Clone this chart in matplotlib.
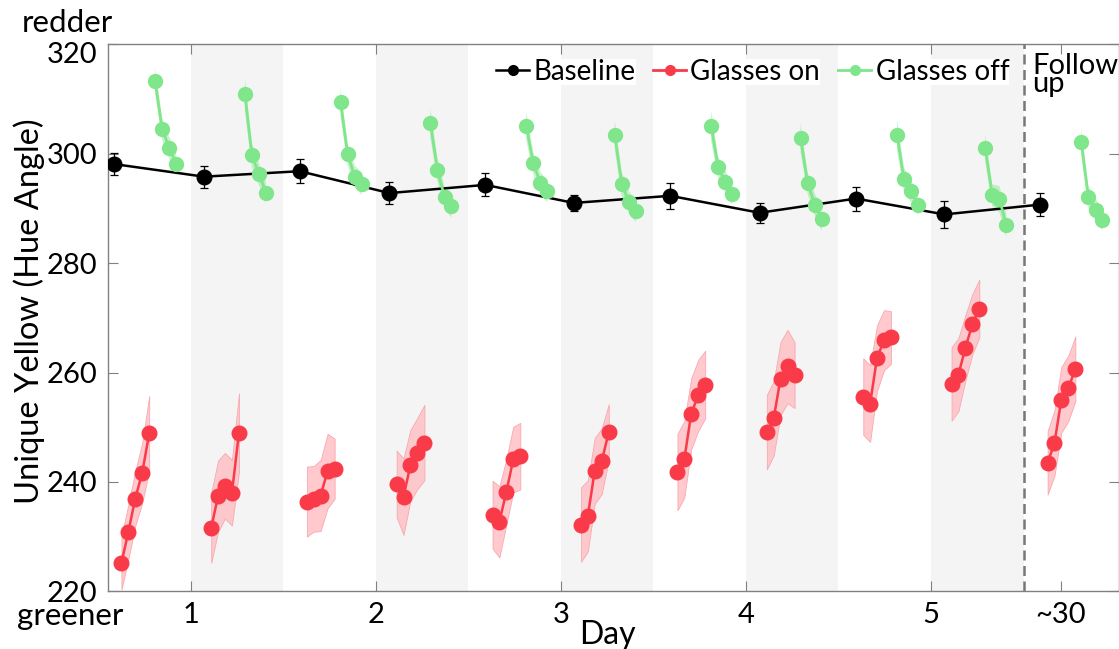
import numpy as np
import matplotlib
matplotlib.use('Agg')
import matplotlib.pyplot as plt
import matplotlib.transforms as mtransforms
from matplotlib.lines import Line2D

plt.rcParams['font.family'] = ['Lato', 'DejaVu Sans']

# session start (position on the day axis) for each baseline measurement
session_x = [0.587, 1.072, 1.589, 2.074, 2.592, 3.070, 3.591, 4.074, 4.595, 5.072, 5.591]

baseline_mean = [298.1, 295.8, 296.8, 292.8, 294.3, 291.0, 292.3, 289.2, 291.8, 288.9, 290.7]
baseline_err = [2.0, 2.0, 2.2, 2.0, 2.1, 1.4, 2.4, 1.8, 2.2, 2.5, 2.1]

# within-session timing of the repeated settings
on_offset = [0.039, 0.076, 0.113, 0.151, 0.189]
off_offset = [0.221, 0.259, 0.298, 0.335]

on_mean = [
    [225.2, 230.8, 236.9, 241.6, 248.9],
    [231.6, 237.4, 239.3, 238.0, 249.0],
    [236.4, 236.9, 237.5, 242.0, 242.4],
    [239.6, 237.3, 243.0, 245.2, 247.2],
    [234.0, 232.7, 238.1, 244.1, 244.7],
    [232.2, 233.8, 242.0, 243.8, 249.1],
    [241.8, 244.1, 252.4, 255.8, 257.8],
    [249.1, 251.6, 258.9, 261.1, 259.5],
    [255.6, 254.3, 262.6, 265.9, 266.4],
    [257.9, 259.6, 264.4, 268.8, 271.7],
    [243.5, 247.1, 255.0, 257.1, 260.7],
]
on_err = [
    [4.9, 5.0, 5.0, 5.5, 6.8],
    [6.4, 6.5, 6.0, 6.0, 7.2],
    [6.4, 6.0, 6.5, 6.8, 5.5],
    [6.1, 7.0, 6.5, 6.5, 6.9],
    [6.2, 6.5, 6.0, 6.0, 6.1],
    [6.8, 6.5, 6.0, 6.0, 5.1],
    [7.0, 7.0, 6.5, 6.5, 6.2],
    [6.8, 6.8, 6.7, 6.7, 6.0],
    [7.0, 7.0, 6.0, 5.5, 4.8],
    [6.7, 6.7, 6.0, 5.5, 5.3],
    [5.8, 6.0, 6.0, 6.0, 5.9],
]

off_mean = [
    [313.3, 304.5, 301.0, 298.1],
    [310.9, 299.7, 296.2, 292.9],
    [309.4, 299.9, 295.8, 294.5],
    [305.6, 297.1, 292.0, 290.5],
    [305.1, 298.3, 294.6, 293.1],
    [303.5, 294.5, 291.1, 289.5],
    [305.1, 297.5, 294.8, 292.6],
    [302.9, 294.7, 290.7, 288.1],
    [303.5, 295.3, 293.1, 290.7],
    [301.0, 292.4, 291.7, 286.9],
    [302.1, 292.1, 289.7, 287.9],
]
off_err = [
    [2.4, 2.0, 2.0, 2.2],
    [3.1, 2.2, 2.0, 2.0],
    [2.7, 2.0, 2.0, 2.0],
    [2.7, 2.2, 2.0, 2.2],
    [2.6, 2.0, 2.0, 2.0],
    [2.7, 2.2, 2.0, 2.0],
    [2.8, 2.0, 2.0, 2.0],
    [2.7, 2.0, 2.0, 2.2],
    [2.8, 2.2, 2.0, 2.0],
    [2.5, 2.0, 2.4, 2.2],
    [2.4, 2.0, 2.0, 2.0],
]

days = [1, 2, 3, 4, 5]
tick_pos = [1, 2, 3, 4, 5, 5.70]
tick_labels = ['1', '2', '3', '4', '5', '~30']
followup_split = 5.5

RED = '#f93a48'
GREEN = '#7fe68b'

fig = plt.figure(figsize=(11.19, 6.49), dpi=100)
ax = fig.add_axes([108.3 / 1119, (649 - 591.3) / 649, 1010.2 / 1119, 547 / 649])

# afternoon shading
for d in days:
    ax.axvspan(d, d + 0.5, color='#f4f4f4', lw=0, zorder=0)

ax.axvline(followup_split, color='#777777', lw=1.8, ls=(0, (4, 2.2)), zorder=1)

# glasses on
for s, m, e in zip(session_x, on_mean, on_err):
    x = s + np.array(on_offset)
    m = np.array(m); e = np.array(e)
    ax.fill_between(x, m - e, m + e, facecolor='#ffc4c8', edgecolor='#f7a3aa',
                    lw=0.6, alpha=0.9, zorder=2)
    ax.plot(x, m, '-o', color=RED, lw=1.8, ms=10.5, zorder=4)

# baseline
ax.errorbar(session_x, baseline_mean, yerr=baseline_err, fmt='-o', color='black',
            lw=1.8, ms=10.5, elinewidth=0.9, capsize=2.6, capthick=0.9, zorder=5)

# glasses off
for s, m, e in zip(session_x, off_mean, off_err):
    x = s + np.array(off_offset)
    m = np.array(m); e = np.array(e)
    ax.fill_between(x, m - e, m + e, facecolor=GREEN, edgecolor='none',
                    alpha=0.45, zorder=3)
    ax.plot(x, m, '-o', color=GREEN, lw=2, ms=10, zorder=6)

ax.set_xlim(0.555, 6.013)
ax.set_ylim(220, 320)
ax.set_xticks(tick_pos)
ax.set_xticklabels(tick_labels)
ax.set_yticks(np.arange(220, 321, 20))
ax.tick_params(direction='in', length=7, width=0.8, color='#808080',
               top=True, right=True, labelsize=21, pad=8)
for sp in ax.spines.values():
    sp.set_color('#808080')
    sp.set_linewidth(1)

# nudge the top y label down a little so it clears the "redder" note
top_lab = ax.get_yticklabels()[-1]
top_lab.set_transform(top_lab.get_transform() +
                      mtransforms.ScaledTranslation(0, -8 / 100, fig.dpi_scale_trans))

ax.set_ylabel('Unique Yellow (Hue Angle)', fontsize=23.5)
ax.yaxis.set_label_coords(-0.0627, 0.512)
ax.set_xlabel('Day', fontsize=23)
ax.xaxis.set_label_coords(0.4937, -0.0525)

# legend: one white-backed entry per series
entries = [
    (Line2D([], [], color='black', marker='o', lw=1.8, ms=7), 'Baseline', 0.3838),
    (Line2D([], [], color=RED, marker='o', lw=2, ms=7), 'Glasses on', 0.5392),
    (Line2D([], [], color=GREEN, marker='o', lw=2, ms=7), 'Glasses off', 0.7224),
]
for h, lab, xa in entries:
    leg = ax.legend([h], [lab], loc='center left', bbox_to_anchor=(xa, 0.950),
                    fontsize=20, frameon=True, facecolor='white', edgecolor='none',
                    framealpha=1, fancybox=False, borderpad=0, borderaxespad=0,
                    handlelength=1.2, handletextpad=0.15)
    leg.set_zorder(10)
    ax.add_artist(leg)

fig.text(22 / 1119, 1 - 32 / 649, 'redder', fontsize=22.5, va='baseline', ha='left')
fig.text(17 / 1119, 1 - 625.5 / 649, 'greener', fontsize=22.5, va='baseline', ha='left')
fig.text(1032 / 1119, 1 - 74.3 / 649, 'Follow', fontsize=21, va='baseline', ha='left')
fig.text(1032 / 1119, 1 - 92 / 649, 'up', fontsize=21, va='baseline', ha='left')

fig.savefig('out.png', dpi=100)
